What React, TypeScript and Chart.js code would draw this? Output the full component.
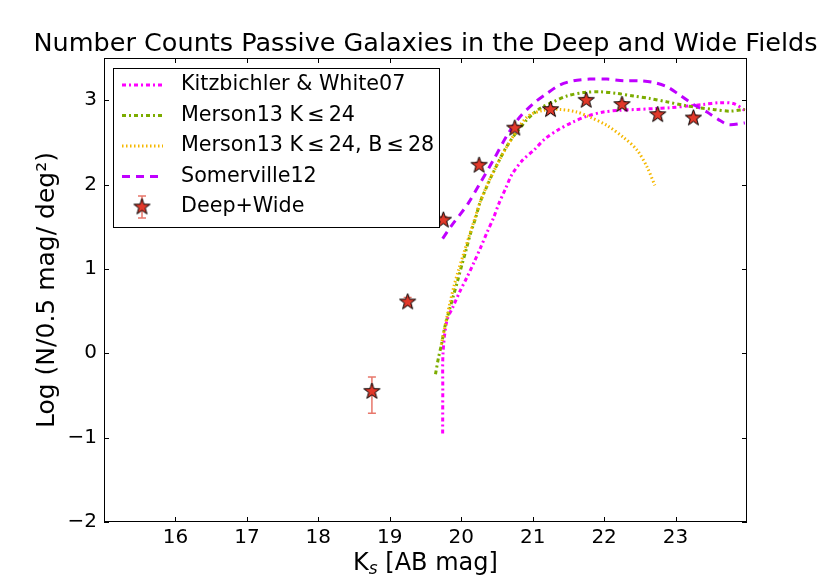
import { useEffect, useRef } from "react";
import { Chart, registerables } from "chart.js";
Chart.register(...registerables);

const FONT = "DejaVu Sans";

// Deep+Wide measured counts
const obsMag = [18.75, 19.25, 19.75, 20.25, 20.75, 21.25, 21.75, 22.25, 22.75, 23.25];
const obsLogN = [-0.44, 0.62, 1.59, 2.24, 2.68, 2.9, 3.01, 2.96, 2.84, 2.8];
const obsErrUp = [0.16, 0.04, 0.03, 0.02, 0.02, 0.02, 0.02, 0.02, 0.02, 0.02];
const obsErrDown = [0.27, 0.05, 0.03, 0.02, 0.02, 0.02, 0.02, 0.02, 0.02, 0.02];

// Kitzbichler & White07
const kwMag = [19.74, 19.742, 19.745, 19.8, 19.89, 19.98, 20.08, 20.18, 20.27, 20.36, 20.45, 20.53, 20.62, 20.71, 20.86, 21.02, 21.17, 21.36, 21.56, 21.76, 21.99, 22.22, 22.46, 22.69, 22.92, 23.16, 23.39, 23.62, 23.81, 23.97];
const kwLogN = [-0.95, -0.45, 0.0, 0.39, 0.56, 0.73, 0.9, 1.08, 1.25, 1.43, 1.6, 1.78, 1.95, 2.12, 2.29, 2.41, 2.54, 2.65, 2.74, 2.81, 2.86, 2.88, 2.89, 2.9, 2.91, 2.93, 2.95, 2.97, 2.96, 2.88];

// Merson13 K<=24
const mkMag = [19.64, 19.68, 19.73, 19.77, 19.83, 19.89, 19.95, 20.01, 20.07, 20.13, 20.2, 20.26, 20.35, 20.44, 20.65, 20.92, 21.1, 21.29, 21.48, 21.71, 21.94, 22.18, 22.41, 22.64, 22.88, 23.11, 23.34, 23.53, 23.76, 23.97];
const mkLogN = [-0.25, -0.06, 0.13, 0.31, 0.5, 0.68, 0.86, 1.05, 1.23, 1.42, 1.6, 1.78, 1.96, 2.13, 2.47, 2.77, 2.9, 2.98, 3.05, 3.09, 3.1, 3.08, 3.05, 3.02, 2.98, 2.94, 2.91, 2.89, 2.87, 2.89];

// Merson13 K<=24, B<=28
const mbMag = [19.72, 19.78, 19.84, 19.9, 19.96, 20.03, 20.1, 20.18, 20.26, 20.35, 20.45, 20.64, 20.92, 21.15, 21.38, 21.62, 21.8, 22.04, 22.27, 22.46, 22.6, 22.71];
const mbLogN = [0.1, 0.35, 0.59, 0.8, 0.98, 1.17, 1.36, 1.57, 1.78, 1.97, 2.15, 2.45, 2.8, 2.88, 2.89, 2.86, 2.8, 2.7, 2.56, 2.41, 2.21, 1.99];

// Somerville12
const smMag = [19.74, 19.87, 19.98, 20.1, 20.26, 20.45, 20.64, 20.82, 21.01, 21.2, 21.38, 21.57, 21.8, 22.04, 22.27, 22.5, 22.69, 22.88, 23.06, 23.25, 23.44, 23.6, 23.74, 23.97];
const smLogN = [1.36, 1.52, 1.64, 1.78, 2.01, 2.29, 2.58, 2.8, 2.96, 3.08, 3.18, 3.23, 3.25, 3.25, 3.23, 3.23, 3.21, 3.16, 3.06, 2.95, 2.86, 2.77, 2.71, 2.73];

const legendLabels = [
  "Kitzbichler & White07",
  "Merson13 K\u2009\u2264\u200924",
  "Merson13 K\u2009\u2264\u200924, B\u2009\u2264\u200928",
  "Somerville12",
  "Deep+Wide",
];

const toPoints = (xs: number[], ys: number[]) => xs.map((x, i) => ({ x, y: ys[i] }));

const STAR_FILL = "#e2392a";
const ERR_COLOR = "#e8776b";

function makeStar(r: number) {
  const c = document.createElement("canvas");
  const s = Math.ceil(r * 2 + 4);
  c.width = s;
  c.height = s;
  const g = c.getContext("2d")!;
  g.translate(s / 2, s / 2 + 1);
  g.beginPath();
  for (let i = 0; i < 10; i++) {
    const rad = i % 2 === 0 ? r : r * 0.4;
    const a = -Math.PI / 2 + (i * Math.PI) / 5;
    const px = rad * Math.cos(a);
    const py = rad * Math.sin(a);
    if (i === 0) g.moveTo(px, py);
    else g.lineTo(px, py);
  }
  g.closePath();
  g.fillStyle = STAR_FILL;
  g.fill();
  g.lineWidth = 1;
  g.strokeStyle = "#000";
  g.stroke();
  return c;
}

const App = () => {
  const ref = useRef<HTMLCanvasElement>(null);

  useEffect(() => {
    const star = makeStar(8.5);

    const errorBars = {
      id: "errorBars",
      beforeDatasetsDraw(chart: any) {
        const { ctx } = chart;
        const xs = chart.scales.x;
        const ys = chart.scales.y;
        ctx.save();
        ctx.strokeStyle = ERR_COLOR;
        ctx.lineWidth = 1.5;
        obsMag.forEach((m, i) => {
          const px = xs.getPixelForValue(m);
          const top = ys.getPixelForValue(obsLogN[i] + obsErrUp[i]);
          const bot = ys.getPixelForValue(obsLogN[i] - obsErrDown[i]);
          ctx.beginPath();
          ctx.moveTo(px, top);
          ctx.lineTo(px, bot);
          ctx.moveTo(px - 4, top);
          ctx.lineTo(px + 4, top);
          ctx.moveTo(px - 4, bot);
          ctx.lineTo(px + 4, bot);
          ctx.stroke();
        });
        ctx.restore();
      },
    };

    const decorations = {
      id: "decorations",
      afterDraw(chart: any) {
        const { ctx, chartArea } = chart;
        const { left, right, top, bottom } = chartArea;
        const xs = chart.scales.x;
        const ys = chart.scales.y;
        ctx.save();

        // frame
        ctx.strokeStyle = "#000";
        ctx.lineWidth = 1;
        ctx.strokeRect(left + 0.5, top + 0.5, right - left - 1, bottom - top - 1);

        // inward ticks on all sides
        const tl = 5;
        ctx.beginPath();
        xs.ticks.forEach((t: any) => {
          const px = Math.round(xs.getPixelForValue(t.value)) + 0.5;
          ctx.moveTo(px, bottom);
          ctx.lineTo(px, bottom - tl);
          ctx.moveTo(px, top);
          ctx.lineTo(px, top + tl);
        });
        ys.ticks.forEach((t: any) => {
          const py = Math.round(ys.getPixelForValue(t.value)) + 0.5;
          ctx.moveTo(left, py);
          ctx.lineTo(left + tl, py);
          ctx.moveTo(right, py);
          ctx.lineTo(right - tl, py);
        });
        ctx.stroke();

        // title
        ctx.fillStyle = "#000";
        ctx.font = `25.5px "${FONT}"`;
        ctx.textAlign = "center";
        ctx.textBaseline = "alphabetic";
        ctx.fillText(
          "Number Counts Passive Galaxies in the Deep and Wide Fields",
          (left + right) / 2,
          51
        );

        // x label with subscript
        const big = `24px "${FONT}"`;
        const small = `italic 17px "${FONT}"`;
        ctx.textAlign = "left";
        ctx.font = big;
        const wK = ctx.measureText("K").width;
        const wRest = ctx.measureText(" [AB mag]").width;
        ctx.font = small;
        const wS = ctx.measureText("s").width;
        let x0 = (left + right) / 2 - (wK + wS + wRest) / 2;
        const base = 570;
        ctx.font = big;
        ctx.fillText("K", x0, base);
        x0 += wK;
        ctx.font = small;
        ctx.fillText("s", x0, base + 4);
        x0 += wS;
        ctx.font = big;
        ctx.fillText(" [AB mag]", x0, base);

        // legend
        const lx = left + 9;
        const ly = top + 10;
        const lw = 326;
        const lh = 159;
        ctx.fillStyle = "#fff";
        ctx.fillRect(lx, ly, lw, lh);
        ctx.strokeStyle = "#000";
        ctx.lineWidth = 1;
        ctx.strokeRect(lx + 0.5, ly + 0.5, lw, lh);
        const rowGap = 30.5;
        chart.data.datasets.forEach((ds: any, i: number) => {
          const cy = ly + 17 + i * rowGap;
          if (ds.showLine === false) {
            const cx = lx + 29;
            ctx.strokeStyle = ERR_COLOR;
            ctx.lineWidth = 1.5;
            ctx.setLineDash([]);
            ctx.beginPath();
            ctx.moveTo(cx, cy - 11);
            ctx.lineTo(cx, cy + 11);
            ctx.moveTo(cx - 4, cy - 11);
            ctx.lineTo(cx + 4, cy - 11);
            ctx.moveTo(cx - 4, cy + 11);
            ctx.lineTo(cx + 4, cy + 11);
            ctx.stroke();
            ctx.drawImage(star, cx - star.width / 2, cy - star.height / 2 - 1);
          } else {
            ctx.strokeStyle = ds.borderColor;
            ctx.lineWidth = ds.borderWidth;
            ctx.setLineDash(ds.borderDash || []);
            ctx.beginPath();
            ctx.moveTo(lx + 9, cy);
            ctx.lineTo(lx + 50, cy);
            ctx.stroke();
          }
          ctx.setLineDash([]);
          ctx.fillStyle = "#000";
          ctx.font = `20.7px "${FONT}"`;
          ctx.textAlign = "left";
          ctx.textBaseline = "middle";
          ctx.fillText(legendLabels[i], lx + 68, cy);
        });

        ctx.restore();
      },
    };

    const lineDs = (
      xs: number[],
      ys: number[],
      color: string,
      dash: number[],
      width: number,
      order: number
    ) => ({
      data: toPoints(xs, ys),
      borderColor: color,
      backgroundColor: color,
      borderWidth: width,
      borderDash: dash,
      pointRadius: 0,
      tension: 0.3,
      fill: false,
      order,
    });

    const chart = new Chart(ref.current!, {
      type: "line",
      data: {
        datasets: [
          lineDs(kwMag, kwLogN, "#ff00ff", [4, 3, 2, 3], 3, 4),
          lineDs(mkMag, mkLogN, "#7cac00", [4, 3, 2, 3], 3, 3),
          lineDs(mbMag, mbLogN, "#f5b800", [1.5, 2.5], 3, 2),
          lineDs(smMag, smLogN, "#bf00ff", [8, 6], 3, 1),
          {
            data: toPoints(obsMag, obsLogN),
            showLine: false,
            pointStyle: star,
            pointRadius: 8,
            order: 0,
          } as any,
        ],
      },
      options: {
        animation: false,
        responsive: false,
        devicePixelRatio: 1,
        layout: { padding: { top: 58, right: 83, left: 0, bottom: 0 } },
        plugins: {
          legend: { display: false },
          tooltip: { enabled: false },
          title: { display: false },
        },
        scales: {
          x: {
            type: "linear",
            min: 15,
            max: 24,
            grid: { display: false, drawTicks: false },
            border: { display: false },
            ticks: {
              stepSize: 1,
              padding: 4,
              color: "#000",
              font: { family: FONT, size: 20 },
              maxRotation: 0,
            },
            afterBuildTicks: (scale: any) => {
              scale.ticks = scale.ticks.filter(
                (t: any) => t.value > 15 && t.value < 24
              );
            },
            afterFit: (scale: any) => {
              scale.height = 59;
            },
          },
          y: {
            type: "linear",
            min: -2,
            max: 3.5,
            grid: { display: false, drawTicks: false },
            border: { display: false },
            ticks: {
              stepSize: 1,
              includeBounds: false,
              padding: 7,
              color: "#000",
              font: { family: FONT, size: 20 },
              callback: (v: any) =>
                v < 0 ? "\u2212" + Math.abs(v) : String(v),
            },
            title: {
              display: true,
              text: "Log (N/0.5 mag/ deg\u00b2)",
              color: "#000",
              font: { family: FONT, size: 25, lineHeight: 1.2 },
              padding: { top: 32, bottom: 0 },
            },
            afterFit: (scale: any) => {
              scale.width = 104;
            },
          },
        },
      },
      plugins: [errorBars, decorations],
    });
    return () => {
      chart.destroy();
    };
  }, []);

  return (
    <div style={{ position: "fixed", left: 0, top: 0, width: 830, height: 581, background: "#fff" }}>
      <canvas ref={ref} width={830} height={581}></canvas>
    </div>
  );
};

export default App;
